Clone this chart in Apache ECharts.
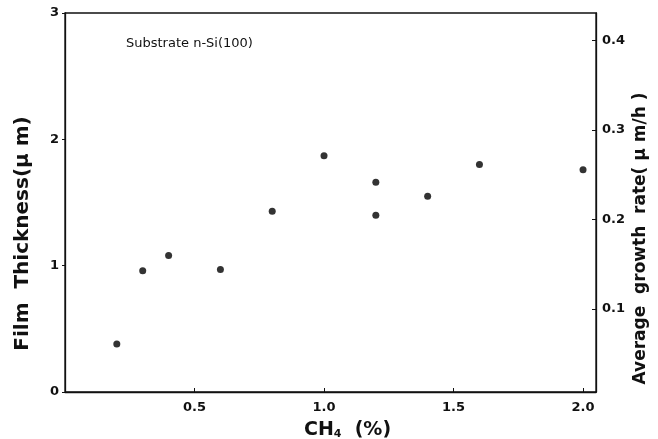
<!DOCTYPE html>
<html>
<head>
<meta charset="utf-8">
<script src="https://cdn.jsdelivr.net/npm/echarts@6/dist/echarts.min.js"></script>
<style>
html,body{margin:0;padding:0;background:#fff;}
#chart{width:658px;height:439px;}
</style>
</head>
<body>
<div id="chart"></div>
<script>
// Data
const ch4Percent = [0.2, 0.3, 0.4, 0.6, 0.8, 1.0, 1.2, 1.2, 1.4, 1.6, 2.0];
const thickness  = [0.38, 0.96, 1.08, 0.97, 1.43, 1.87, 1.66, 1.40, 1.55, 1.80, 1.76];
const xTicks = [0.5, 1.0, 1.5, 2.0];
const leftTicks = [0, 1, 2, 3];
const rightTicks = [0.1, 0.2, 0.3, 0.4];
const annotation = 'Substrate n-Si(100)';

const FONT = "'DejaVu Sans', 'Liberation Sans', Arial, sans-serif";
const INK = '#111';

const chart = echarts.init(document.getElementById('chart'), null, {renderer: 'canvas'});
chart.setOption({
  animation: false,
  backgroundColor: '#fff',
  title: {
    text: annotation,
    left: 121, top: 32,
    textStyle: {fontFamily: FONT, fontSize: 13, fontWeight: 'normal', color: INK}
  },
  grid: {left: 65, top: 13, right: 62, bottom: 47, show: true, borderColor: INK, borderWidth: 1.3,
    containLabel: false, outerBoundsMode: 'none'},
  xAxis: {
    type: 'value', min: 0, max: 2.05,
    name: '{a|CH}{s|4}{a|  (%)}',
    nameLocation: 'middle', nameGap: 29, nameMoveOverlap: false,
    nameTextStyle: {padding: [0, 0, 0, 34], rich: {
      a: {fontFamily: FONT, fontSize: 19, fontWeight: 'bold', color: INK},
      s: {fontFamily: FONT, fontSize: 11, fontWeight: 'bold', color: INK, verticalAlign: 'bottom', padding: [8,0,0,0]}
    }},
    axisLine: {show: true, lineStyle: {color: INK, width: 1.3}},
    axisTick: {show: true, inside: true, length: 4, customValues: xTicks, lineStyle: {color: INK}},
    axisLabel: {customValues: xTicks, margin: 9, fontFamily: FONT, fontSize: 13, fontWeight: 'bold', color: INK,
      formatter: v => v.toFixed(1)},
    splitLine: {show: false}
  },
  yAxis: [{
    type: 'value', min: 0, max: 3, interval: 1,
    name: 'Film  Thickness(\u03bc m)',
    nameLocation: 'middle', nameGap: 32, nameRotate: 90, nameMoveOverlap: false,
    nameTextStyle: {fontFamily: FONT, fontSize: 20, fontWeight: 'bold', color: INK, padding: [0, 62, 0, 0]},
    axisLine: {show: true, lineStyle: {color: INK, width: 1.3}},
    axisTick: {show: true, inside: false, length: 3, lineStyle: {color: INK}},
    axisLabel: {customValues: leftTicks, margin: 6, fontFamily: FONT, fontSize: 13, fontWeight: 'bold', color: INK},
    splitLine: {show: false}
  }, {
    type: 'value', min: 0.0073, max: 0.4307,
    position: 'right',
    name: 'Average  growth  rate( \u03bc m/h )',
    nameLocation: 'middle', nameGap: 36, nameRotate: 90, nameMoveOverlap: false,
    nameTextStyle: {fontFamily: FONT, fontSize: 17, fontWeight: 'bold', color: INK, padding: [0, 72, 0, 0]},
    axisLine: {show: true, lineStyle: {color: INK, width: 1.3}},
    axisTick: {show: true, inside: true, length: 4, customValues: rightTicks, lineStyle: {color: INK}},
    axisLabel: {customValues: rightTicks, margin: 6, fontFamily: FONT, fontSize: 13, fontWeight: 'bold', color: INK,
      formatter: v => v.toFixed(1)},
    splitLine: {show: false}
  }],
  series: [{
    type: 'scatter',
    yAxisIndex: 0,
    data: ch4Percent.map((x, i) => [x, thickness[i]]),
    symbol: 'circle', symbolSize: 7,
    itemStyle: {color: '#000'}
  }]
});
</script>
</body>
</html>
